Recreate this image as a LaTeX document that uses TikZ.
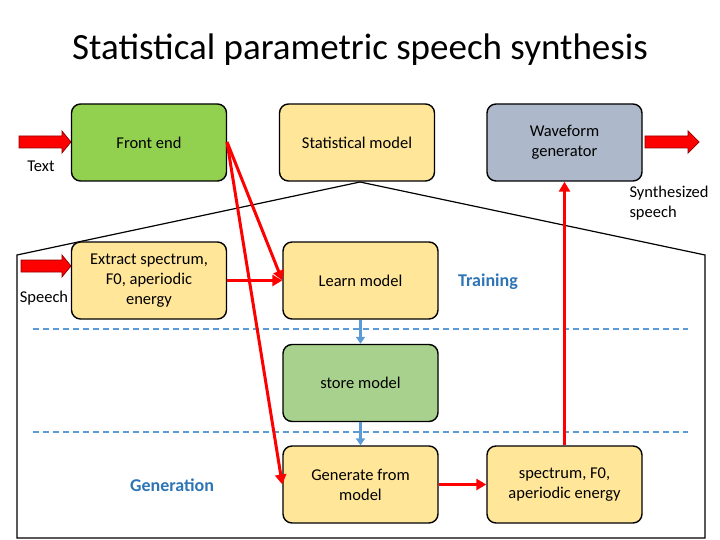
\documentclass[tikz,border=0pt]{standalone}
\usepackage{fontspec}
\setmainfont{Carlito}
\usetikzlibrary{arrows.meta}
\definecolor{fg}{HTML}{92D050}
\definecolor{yl}{HTML}{FFE699}
\definecolor{gb}{HTML}{ADB9CA}
\definecolor{sg}{HTML}{A9D18E}
\definecolor{bl}{HTML}{2E75B6}
\definecolor{dl}{HTML}{5B9BD5}
\begin{document}
\begin{tikzpicture}[x=1pt,y=-1pt,
 box/.style={draw=black,line width=1.4pt,rounded corners=9pt,minimum width=155pt,minimum height=77pt,align=center,font=\fontsize{16.5}{20}\selectfont,inner sep=2pt},
 big/.style={fill=red,draw=red!55!black,line width=0.7pt},
 rl/.style={red,line width=3pt,-{Triangle[length=10pt,width=11pt]}},
 ba/.style={dl,line width=2.5pt,-{Triangle[length=7pt,width=9pt]}},
 lbl/.style={font=\fontsize{16.5}{20}\selectfont,align=left}]
\useasboundingbox (0,0) rectangle (720,540);
\node[font=\fontsize{37}{42}\selectfont] (title) at (360,50) {Statistical parametric speech synthesis};
\draw[line width=1.2pt] (17,538) -- (17,255) -- (360,182) -- (705,255) -- (705,538) -- cycle;
\draw[dl,line width=2pt,dash pattern=on 6pt off 4pt] (33,329) -- (688,329);
\draw[dl,line width=2pt,dash pattern=on 6pt off 4pt] (33,432) -- (688,432);
\node[box,fill=fg] (fe) at (149,142.5) {Front end};
\node[box,fill=yl] (sm) at (357,142.5) {Statistical model};
\node[box,fill=gb] (wg) at (564.5,142.5) {Waveform\\generator};
\node[box,fill=yl] (ex) at (149,280.5) {Extract spectrum,\\F0, aperiodic\\energy};
\node[box,fill=yl] (lm) at (360.5,280.5) {Learn model};
\node[box,fill=sg] (st) at (360.5,383) {store model};
\node[box,fill=yl] (gm) at (360.5,484.5) {Generate from\\model};
\node[box,fill=yl] (sp) at (564.5,484.5) {spectrum, F0,\\aperiodic energy};
\draw[big] (19,136) -- (62,136) -- (62,131) -- (71,142) -- (62,153) -- (62,148) -- (19,148) -- cycle;
\draw[big] (21,260) -- (62,260) -- (62,255) -- (71,266) -- (62,277) -- (62,272) -- (21,272) -- cycle;
\draw[big] (645,136) -- (688,136) -- (688,131) -- (699,142) -- (688,153) -- (688,148) -- (645,148) -- cycle;
\node[lbl] (t1) at (41,166) {Text};
\node[lbl] (t2) at (44,298) {Speech};
\node[lbl,anchor=west] (t3) at (626,203) {Synthesized\\speech};
\node[font=\bfseries\fontsize{18}{22}\selectfont,text=bl] (tr) at (488,282) {Training};
\node[font=\bfseries\fontsize{18}{22}\selectfont,text=bl] (ge) at (172,485) {Generation};
\coordinate (fo) at (227,142);
\draw[rl] (fo) -- (lm.west);
\draw[rl] (fo) -- (gm.west);
\draw[rl] (ex.east) -- (lm.west |- ex.east);
\draw[rl] (gm.east) -- (sp.west);
\draw[rl] (sp.north) -- (wg.south);
\draw[ba] (lm.south) -- (st.north);
\draw[ba] (st.south) -- (gm.north);
\end{tikzpicture}
\end{document}
